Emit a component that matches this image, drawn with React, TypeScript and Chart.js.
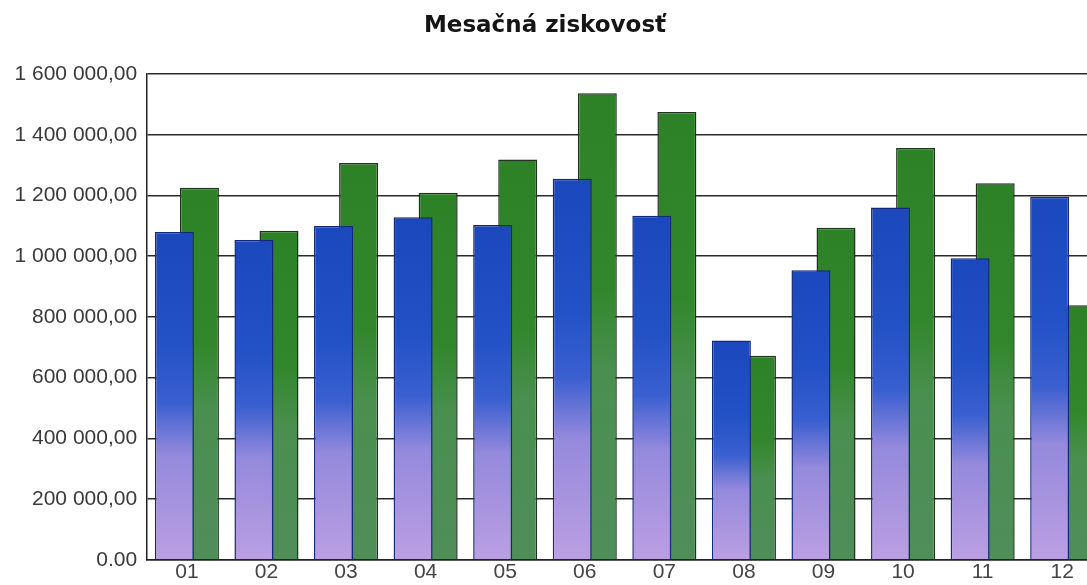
import React, { useEffect, useRef } from "react";
import { Chart, registerables } from "chart.js";

Chart.register(...registerables);

const months = ["01", "02", "03", "04", "05", "06", "07", "08", "09", "10", "11", "12"];
const seriesBlue = [1080000, 1053000, 1099000, 1128000, 1103000, 1255000, 1133000, 722000, 954000, 1160000, 993000, 1196000];
const seriesGreen = [1225000, 1084000, 1307000, 1209000, 1318000, 1537000, 1475000, 672000, 1094000, 1356000, 1240000, 838000];
const yTicks = [0, 200000, 400000, 600000, 800000, 1000000, 1200000, 1400000, 1600000];
const titleText = "Mesačná ziskovosť";

function fmt(v: number): string {
  if (v === 0) return "0.00";
  const s = Math.round(v).toString().replace(/\B(?=(\d{3})+(?!\d))/g, " ");
  return s + ",00";
}

function barGradient(ctx: any, stops: [number, string][], fallback: string) {
  const chart = ctx.chart;
  const y = chart.scales && chart.scales.y;
  if (!chart.chartArea || !y || ctx.raw == null) return fallback;
  const top = y.getPixelForValue(ctx.raw);
  const bottom = y.getPixelForValue(0);
  if (!isFinite(top) || !isFinite(bottom) || bottom - top < 1) return fallback;
  const g = chart.ctx.createLinearGradient(0, top, 0, bottom);
  stops.forEach(([o, c]) => g.addColorStop(o, c));
  return g;
}

const titlePlugin = {
  id: "customTitle",
  afterDraw(chart: any) {
    const c = chart.ctx;
    c.save();
    c.font = "bold 23px 'DejaVu Sans'";
    c.fillStyle = "#151515";
    c.textAlign = "center";
    c.textBaseline = "alphabetic";
    c.fillText(titleText, 545, 32);
    c.restore();
  },
};

export default function App() {
  const ref = useRef<HTMLCanvasElement>(null);
  useEffect(() => {
    document.body.style.overflow = "hidden";
    const chart = new Chart(ref.current!, {
      type: "bar",
      data: {
        labels: months,
        datasets: [
          {
            label: "A",
            data: seriesBlue,
            backgroundColor: (ctx: any) =>
              barGradient(
                ctx,
                [
                  [0, "#1b48bc"],
                  [0.35, "#2352c6"],
                  [0.52, "#3a5fd0"],
                  [0.68, "#9489dc"],
                  [1, "#bb9fe2"],
                ],
                "#2553c8"
              ),
            borderColor: "#14287a",
            borderWidth: 1.5,
            categoryPercentage: 0.63,
            barPercentage: 1.556,
          },
          {
            label: "B",
            data: seriesGreen,
            backgroundColor: (ctx: any) =>
              barGradient(
                ctx,
                [
                  [0, "#2d8227"],
                  [0.42, "#32872c"],
                  [0.6, "#4a8f50"],
                  [1, "#508d5a"],
                ],
                "#34892e"
              ),
            borderColor: "#1f331f",
            borderWidth: 1.5,
            categoryPercentage: 0.63,
            barPercentage: 1.556,
          },
        ],
      },
      options: {
        responsive: false,
        animation: false,
        devicePixelRatio: 1,
        layout: { padding: { top: 74, left: 4.5, right: 8, bottom: 0 } },
        plugins: {
          legend: { display: false },
          title: { display: false },
          tooltip: { enabled: false },
        },
        scales: {
          x: {
            grid: { display: false, drawTicks: false },
            border: { display: true, color: "#222", width: 1.5 },
            ticks: {
              color: "#444",
              font: { family: "'Liberation Sans', Arial", size: 21 },
              padding: 0,
              maxRotation: 0,
            },
          },
          y: {
            min: 0,
            max: 1600000,
            afterBuildTicks: (axis: any) => {
              axis.ticks = yTicks.map((v) => ({ value: v }));
            },
            grid: { color: "#2a2a2a", lineWidth: 1.5, drawTicks: false },
            border: { display: true, color: "#222", width: 1.5 },
            ticks: {
              color: "#3a3a3a",
              font: { family: "'Liberation Sans', Arial", size: 21 },
              padding: 10,
              callback: (v: any) => fmt(Number(v)),
            },
          },
        },
      },
      plugins: [titlePlugin],
    });
    return () => chart.destroy();
  }, []);
  return (
    <div style={{ position: "fixed", left: 0, top: 0, width: 1087, height: 585, overflow: "hidden", background: "#fff" }}>
      <canvas ref={ref} width={1110} height={585} style={{ width: 1110, height: 585, display: "block" }} />
    </div>
  );
}
